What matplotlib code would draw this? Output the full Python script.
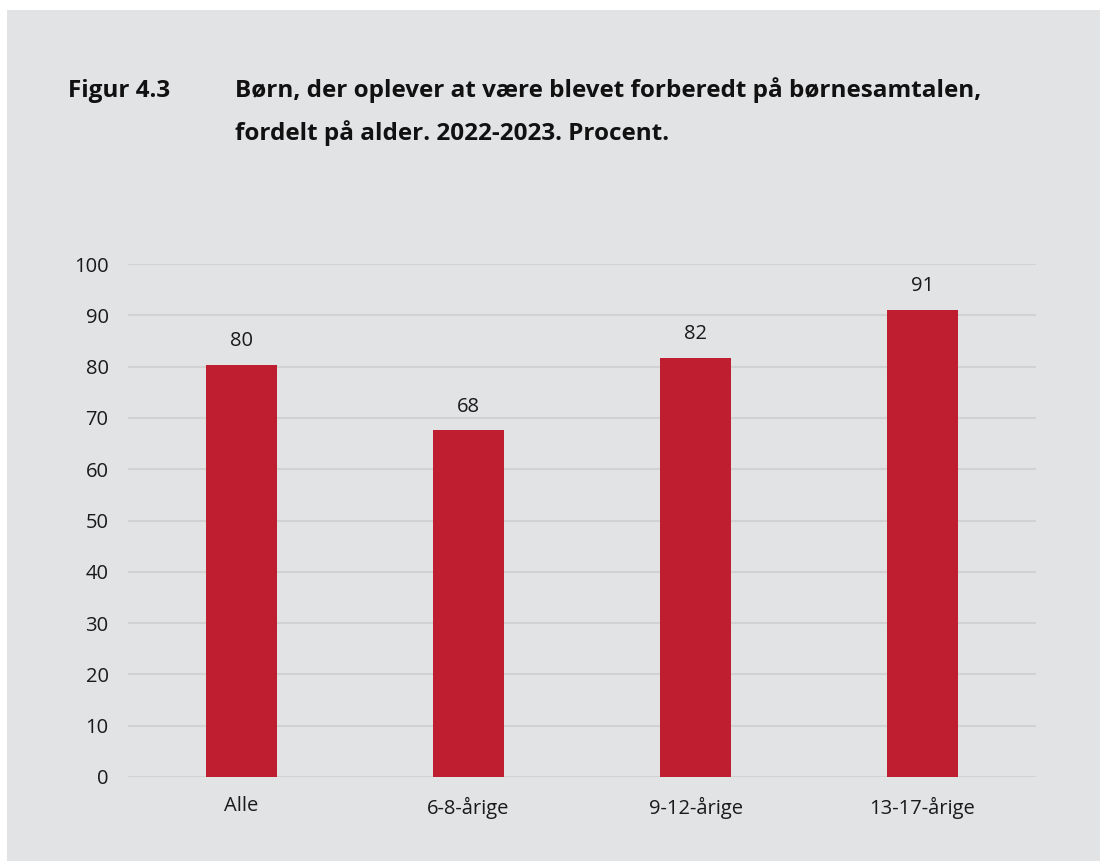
import matplotlib.pyplot as plt
from matplotlib.patches import Rectangle

categories = ['Alle', '6-8-årige', '9-12-årige', '13-17-årige']
values = [80.4, 67.6, 81.7, 91.1]
labels = ['80', '68', '82', '91']
yticks = [0, 10, 20, 30, 40, 50, 60, 70, 80, 90, 100]

plt.rcParams['font.family'] = ['Open Sans', 'DejaVu Sans']

bg = '#e2e3e5'
bar_color = '#be1e2f'

fig = plt.figure(figsize=(11, 8.61), dpi=100)
fig.patch.set_facecolor('white')
fig.patches.append(Rectangle((7 / 1100, 0), 1 - 7 / 1100, 1 - 10 / 861,
                             transform=fig.transFigure, facecolor=bg,
                             edgecolor='none', zorder=-10))

ax = fig.add_axes([128 / 1100, 1 - 777 / 861, (1036 - 128) / 1100, (777 - 264) / 861])
ax.set_facecolor(bg)

x = range(len(categories))
ax.bar(x, values, width=0.31, color=bar_color, zorder=3)
for xi, v, lab in zip(x, values, labels):
    ax.annotate(lab, (xi, v), xytext=(0, 17), textcoords='offset points',
                ha='center', va='center', fontsize=14.5, color='#1a1a1a')

ax.set_xlim(-0.5, 3.5)
ax.set_ylim(0, 100)
ax.set_yticks(yticks)
ax.set_xticks(list(x))
ax.set_xticklabels(categories)
ax.grid(axis='y', color='#d2d2d2', linewidth=1.5, zorder=0)
ax.tick_params(axis='both', length=0, labelsize=14.5, colors='#1a1a1a')
ax.tick_params(axis='y', pad=14)
ax.tick_params(axis='x', pad=14)
for s in ax.spines.values():
    s.set_visible(False)

# title block
title_kw = dict(fontsize=17.5, fontweight='bold', va='baseline', ha='left', color='#111111')
fig.text(68 / 1100, 1 - 97 / 861, 'Figur 4.3', **title_kw)
fig.text(235 / 1100, 1 - 97 / 861,
         'Børn, der oplever at være blevet forberedt på børnesamtalen,', **title_kw)
fig.text(235 / 1100, 1 - 140 / 861,
         'fordelt på alder. 2022-2023. Procent.', **title_kw)

fig.savefig('out.png', dpi=100, facecolor=fig.get_facecolor())
